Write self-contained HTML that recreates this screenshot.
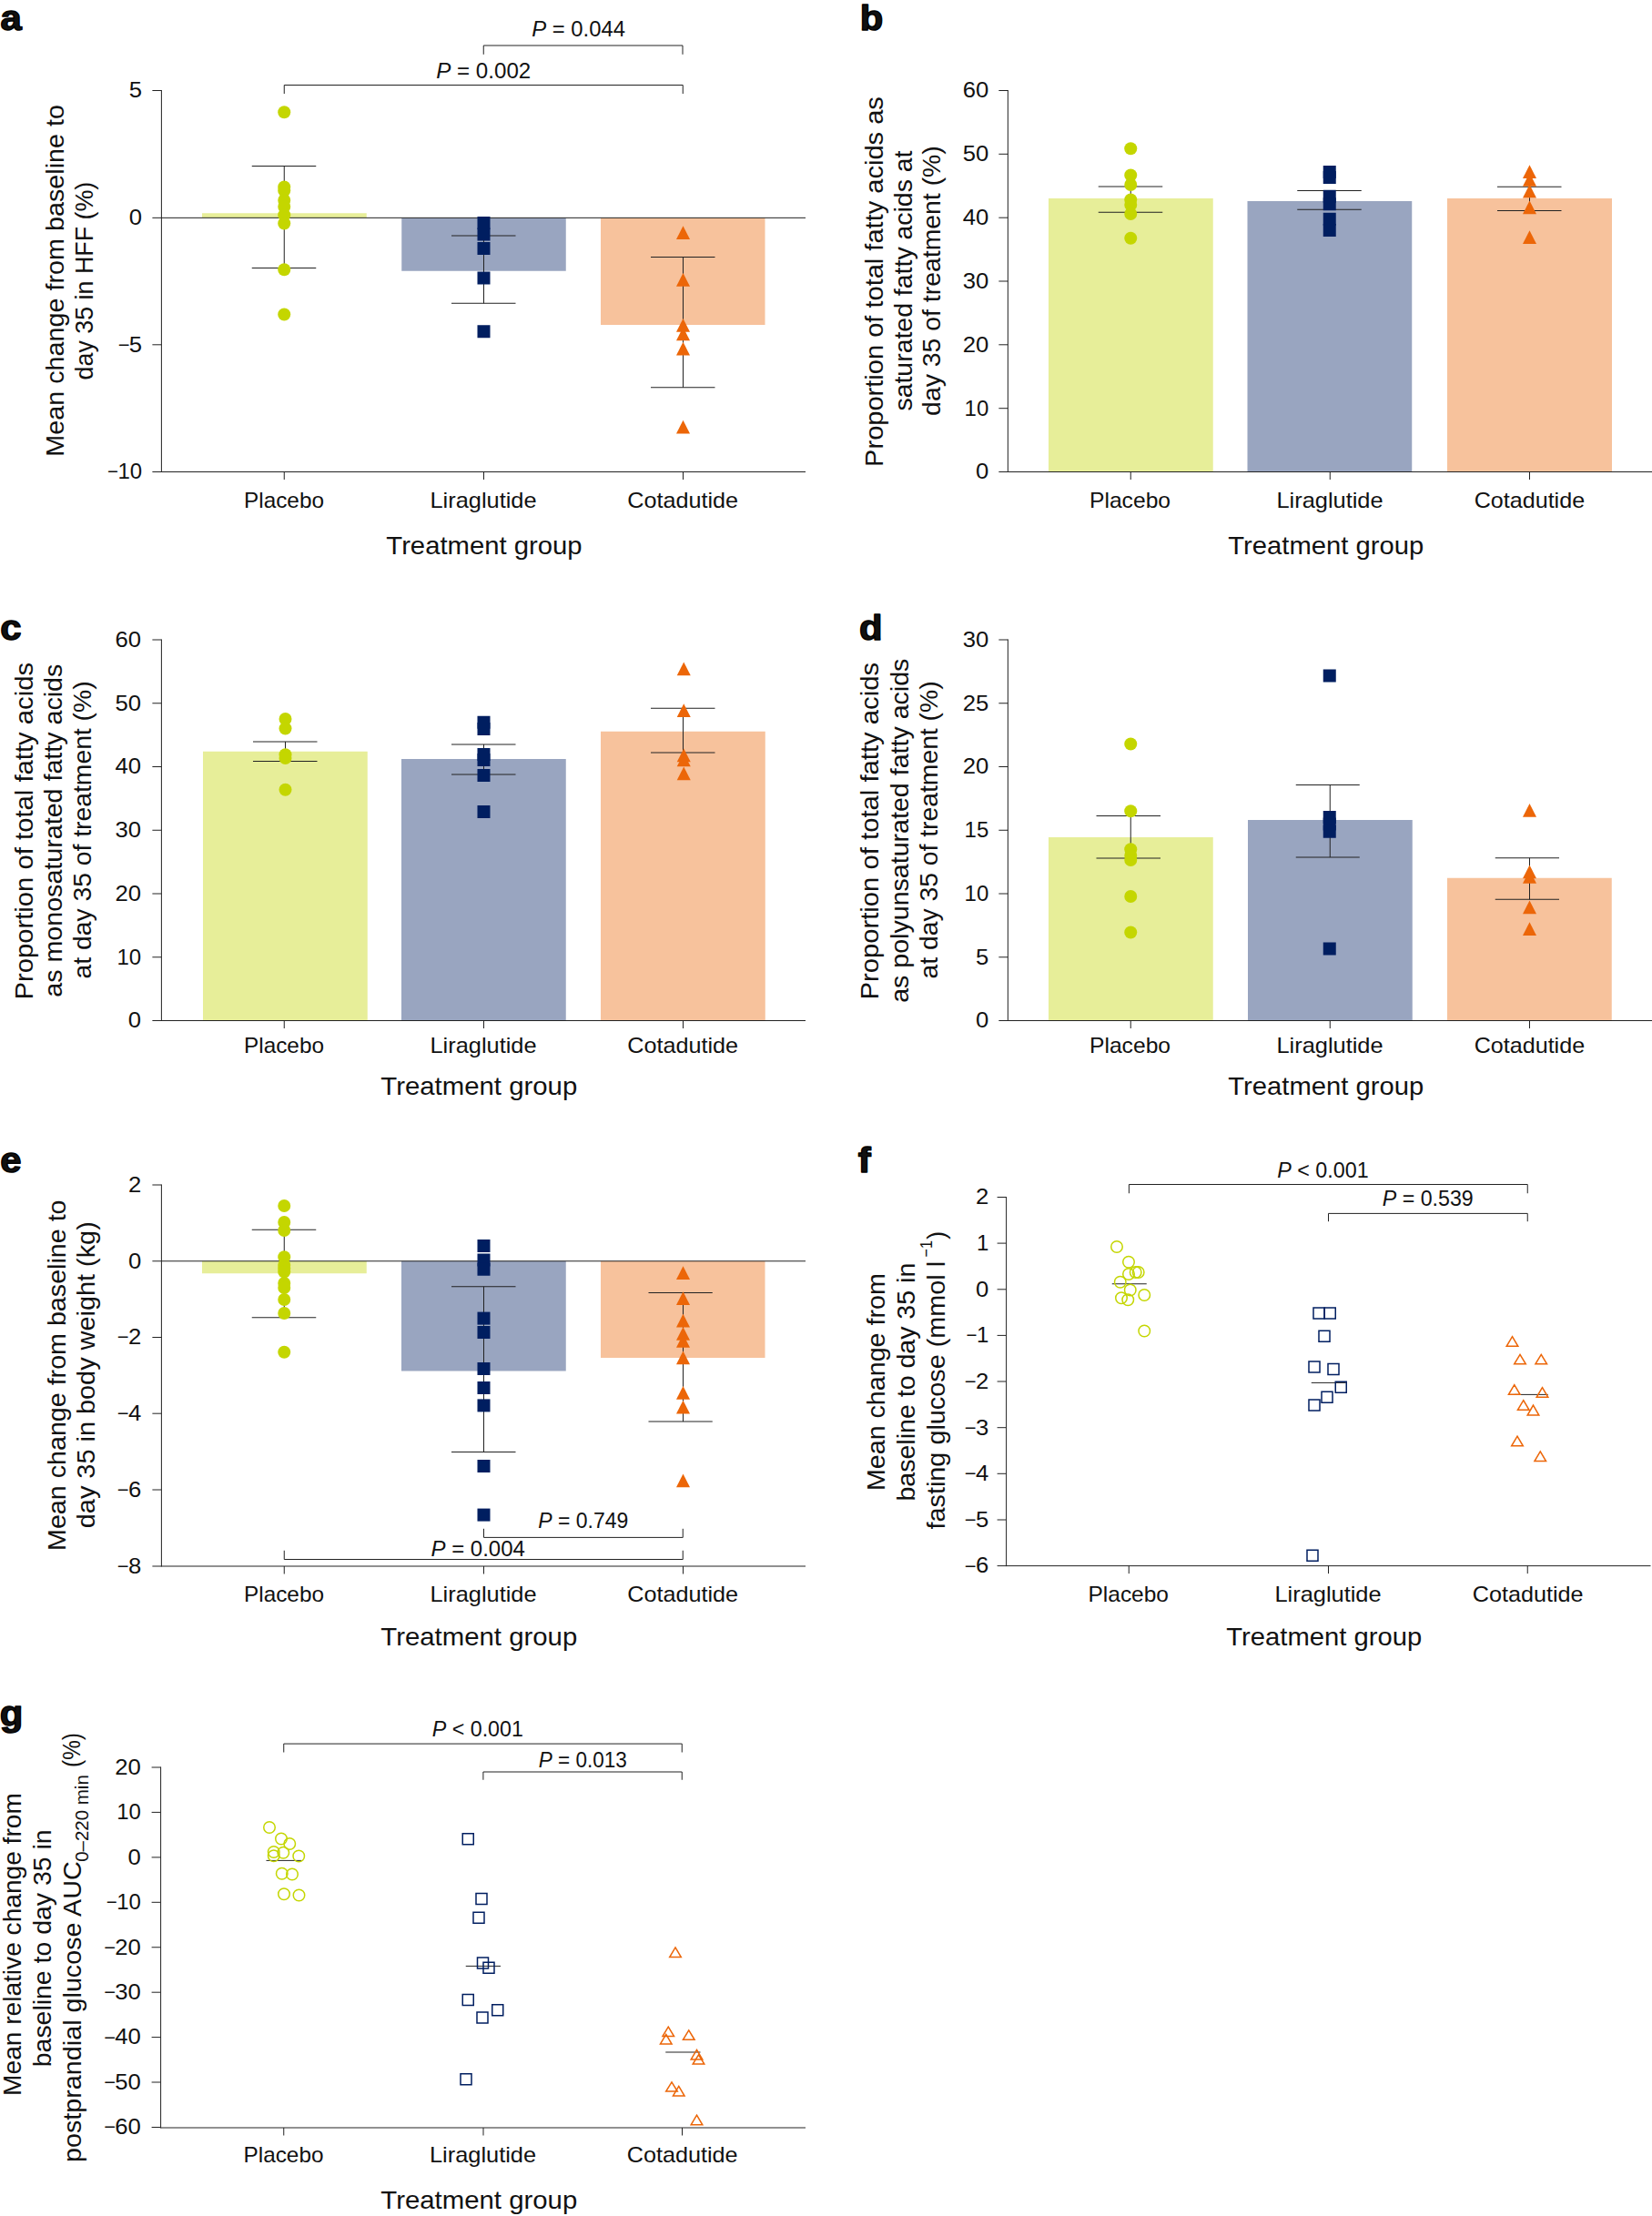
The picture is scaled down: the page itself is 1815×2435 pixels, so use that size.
<!DOCTYPE html>
<html lang="en"><head><meta charset="utf-8"><title>Figure</title>
<style>
html,body{margin:0;padding:0;background:#fff;}
body{width:1815px;height:2435px;overflow:hidden;}
svg{display:block;font-family:'Liberation Sans', sans-serif;fill:#111111;}
</style></head><body>
<svg width="1815" height="2435" viewBox="0 0 1815 2435">
<rect width="1815" height="2435" fill="#fff"/>
<text transform="translate(0.48,32.6) scale(1.1,1)" font-size="38" font-weight="bold" stroke="#000" stroke-width="1.4" stroke-linejoin="round">a</text>
<rect x="222.00" y="234.25" width="180.75" height="5.05" fill="#E7EE99"/>
<rect x="441.25" y="239.30" width="180.50" height="58.45" fill="#99A5C0"/>
<rect x="660.00" y="239.30" width="180.50" height="117.70" fill="#F7C29C"/>
<line x1="177.4" y1="99.0" x2="177.4" y2="519.0" stroke="#222222" stroke-width="1"/>
<line x1="177.4" y1="518.5" x2="885" y2="518.5" stroke="#222222" stroke-width="1"/>
<line x1="312.25" y1="518.5" x2="312.25" y2="527.0" stroke="#222222" stroke-width="1"/>
<line x1="531.5" y1="518.5" x2="531.5" y2="527.0" stroke="#222222" stroke-width="1"/>
<line x1="750.5" y1="518.5" x2="750.5" y2="527.0" stroke="#222222" stroke-width="1"/>
<line x1="167.4" y1="99.5" x2="177.4" y2="99.5" stroke="#222222" stroke-width="1"/>
<text transform="translate(156.10,107.30) scale(1.07,1)" font-size="24" text-anchor="end">5</text>
<line x1="167.4" y1="239.35" x2="177.4" y2="239.35" stroke="#222222" stroke-width="1"/>
<text transform="translate(156.10,247.15) scale(1.07,1)" font-size="24" text-anchor="end">0</text>
<line x1="167.4" y1="378.8" x2="177.4" y2="378.8" stroke="#222222" stroke-width="1"/>
<text transform="translate(156.10,386.60) scale(1.07,1)" font-size="24" text-anchor="end"><tspan font-size="20.5" dy="-0.9">−</tspan><tspan dy="0.9" dx="-0.6">5</tspan></text>
<line x1="167.4" y1="518.5" x2="177.4" y2="518.5" stroke="#222222" stroke-width="1"/>
<text transform="translate(156.10,526.30) scale(1.0,1)" font-size="24" text-anchor="end"><tspan font-size="20.5" dy="-0.9">−</tspan><tspan dy="0.9" dx="-0.6">10</tspan></text>
<line x1="177.4" y1="239.35" x2="885" y2="239.35" stroke="#222222" stroke-width="1"/>
<line x1="312.25" y1="182.5" x2="312.25" y2="294.5" stroke="#222222" stroke-width="1"/>
<line x1="276.75" y1="182.5" x2="347.25" y2="182.5" stroke="#222222" stroke-width="1"/>
<line x1="276.75" y1="294.5" x2="347.25" y2="294.5" stroke="#222222" stroke-width="1"/>
<circle cx="312.25" cy="123.25" r="7" fill="#C4D600"/>
<circle cx="312.25" cy="205.50" r="7" fill="#C4D600"/>
<circle cx="312.25" cy="209.50" r="7" fill="#C4D600"/>
<circle cx="312.25" cy="220.00" r="7" fill="#C4D600"/>
<circle cx="312.25" cy="227.00" r="7" fill="#C4D600"/>
<circle cx="312.25" cy="236.25" r="7" fill="#C4D600"/>
<circle cx="312.25" cy="245.50" r="7" fill="#C4D600"/>
<circle cx="312.25" cy="296.25" r="7" fill="#C4D600"/>
<circle cx="312.25" cy="345.50" r="7" fill="#C4D600"/>
<line x1="531.5" y1="259" x2="531.5" y2="333.25" stroke="#222222" stroke-width="1"/>
<line x1="496.0" y1="259" x2="566.5" y2="259" stroke="#222222" stroke-width="1"/>
<line x1="496.0" y1="333.25" x2="566.5" y2="333.25" stroke="#222222" stroke-width="1"/>
<rect x="524.50" y="238.00" width="14" height="14" fill="#001E60"/>
<rect x="524.50" y="250.50" width="14" height="14" fill="#001E60"/>
<rect x="524.50" y="266.00" width="14" height="14" fill="#001E60"/>
<rect x="524.50" y="298.50" width="14" height="14" fill="#001E60"/>
<rect x="524.50" y="357.25" width="14" height="14" fill="#001E60"/>
<line x1="750.5" y1="282.5" x2="750.5" y2="425.75" stroke="#222222" stroke-width="1"/>
<line x1="715.0" y1="282.5" x2="785.5" y2="282.5" stroke="#222222" stroke-width="1"/>
<line x1="715.0" y1="425.75" x2="785.5" y2="425.75" stroke="#222222" stroke-width="1"/>
<path d="M750.50 248.25l7.5 14.75h-15z" fill="#EC6608"/>
<path d="M750.50 300.00l7.5 14.75h-15z" fill="#EC6608"/>
<path d="M750.50 350.00l7.5 14.75h-15z" fill="#EC6608"/>
<path d="M750.50 359.50l7.5 14.75h-15z" fill="#EC6608"/>
<path d="M750.50 375.75l7.5 14.75h-15z" fill="#EC6608"/>
<path d="M750.50 461.75l7.5 14.75h-15z" fill="#EC6608"/>
<path d="M531.25 59.8V50.0H750V59.8" fill="none" stroke="#222222" stroke-width="1"/>
<path d="M312.25 103V93.5H750.25V103" fill="none" stroke="#222222" stroke-width="1"/>
<text x="584.27" y="39.50" font-size="24" textLength="102.7" lengthAdjust="spacingAndGlyphs"><tspan font-style="italic">P</tspan> = 0.044</text>
<text x="479.26" y="86.25" font-size="24" textLength="104.0" lengthAdjust="spacingAndGlyphs"><tspan font-style="italic">P</tspan> = 0.002</text>
<text x="268.00" y="558.40" font-size="24" textLength="88.0" lengthAdjust="spacingAndGlyphs">Placebo</text>
<text x="472.42" y="558.40" font-size="24" textLength="117.2" lengthAdjust="spacingAndGlyphs">Liraglutide</text>
<text x="689.22" y="558.40" font-size="24" textLength="121.9" lengthAdjust="spacingAndGlyphs">Cotadutide</text>
<text x="424.35" y="609.00" font-size="28" textLength="215.2" lengthAdjust="spacingAndGlyphs">Treatment group</text>
<text transform="translate(69.50,501.66) rotate(-90)" font-size="28" textLength="386.6" lengthAdjust="spacingAndGlyphs">Mean change from baseline to</text>
<text transform="translate(101.70,417.43) rotate(-90)" font-size="28" textLength="217.7" lengthAdjust="spacingAndGlyphs">day 35 in HFF (%)</text>
<text transform="translate(944.74,32.8) scale(1.1,1)" font-size="38" font-weight="bold" stroke="#000" stroke-width="1.4" stroke-linejoin="round">b</text>
<rect x="1152.00" y="218.00" width="180.75" height="300.50" fill="#E7EE99"/>
<rect x="1370.50" y="221.00" width="180.75" height="297.50" fill="#99A5C0"/>
<rect x="1590.00" y="218.00" width="181.00" height="300.50" fill="#F7C29C"/>
<line x1="1107.35" y1="99.0" x2="1107.35" y2="519.0" stroke="#222222" stroke-width="1"/>
<line x1="1107.35" y1="518.5" x2="1815" y2="518.5" stroke="#222222" stroke-width="1"/>
<line x1="1242.25" y1="518.5" x2="1242.25" y2="527.0" stroke="#222222" stroke-width="1"/>
<line x1="1461.25" y1="518.5" x2="1461.25" y2="527.0" stroke="#222222" stroke-width="1"/>
<line x1="1680.5" y1="518.5" x2="1680.5" y2="527.0" stroke="#222222" stroke-width="1"/>
<line x1="1097.35" y1="99.5" x2="1107.35" y2="99.5" stroke="#222222" stroke-width="1"/>
<text transform="translate(1086.30,107.30) scale(1.07,1)" font-size="24" text-anchor="end">60</text>
<line x1="1097.35" y1="169.3" x2="1107.35" y2="169.3" stroke="#222222" stroke-width="1"/>
<text transform="translate(1086.30,177.10) scale(1.07,1)" font-size="24" text-anchor="end">50</text>
<line x1="1097.35" y1="239.2" x2="1107.35" y2="239.2" stroke="#222222" stroke-width="1"/>
<text transform="translate(1086.30,247.00) scale(1.07,1)" font-size="24" text-anchor="end">40</text>
<line x1="1097.35" y1="309" x2="1107.35" y2="309" stroke="#222222" stroke-width="1"/>
<text transform="translate(1086.30,316.80) scale(1.07,1)" font-size="24" text-anchor="end">30</text>
<line x1="1097.35" y1="378.8" x2="1107.35" y2="378.8" stroke="#222222" stroke-width="1"/>
<text transform="translate(1086.30,386.60) scale(1.07,1)" font-size="24" text-anchor="end">20</text>
<line x1="1097.35" y1="448.7" x2="1107.35" y2="448.7" stroke="#222222" stroke-width="1"/>
<text transform="translate(1086.30,456.50) scale(1.0,1)" font-size="24" text-anchor="end">10</text>
<line x1="1097.35" y1="518.5" x2="1107.35" y2="518.5" stroke="#222222" stroke-width="1"/>
<text transform="translate(1086.30,526.30) scale(1.07,1)" font-size="24" text-anchor="end">0</text>
<line x1="1242.25" y1="205" x2="1242.25" y2="233.25" stroke="#222222" stroke-width="1"/>
<line x1="1206.75" y1="205" x2="1277.25" y2="205" stroke="#222222" stroke-width="1"/>
<line x1="1206.75" y1="233.25" x2="1277.25" y2="233.25" stroke="#222222" stroke-width="1"/>
<circle cx="1242.25" cy="163.25" r="7" fill="#C4D600"/>
<circle cx="1242.25" cy="192.50" r="7" fill="#C4D600"/>
<circle cx="1242.25" cy="203.00" r="7" fill="#C4D600"/>
<circle cx="1242.25" cy="219.50" r="7" fill="#C4D600"/>
<circle cx="1242.25" cy="225.00" r="7" fill="#C4D600"/>
<circle cx="1242.25" cy="235.00" r="7" fill="#C4D600"/>
<circle cx="1242.25" cy="261.75" r="7" fill="#C4D600"/>
<line x1="1460.75" y1="209.5" x2="1460.75" y2="230.25" stroke="#222222" stroke-width="1"/>
<line x1="1425.25" y1="209.5" x2="1495.75" y2="209.5" stroke="#222222" stroke-width="1"/>
<line x1="1425.25" y1="230.25" x2="1495.75" y2="230.25" stroke="#222222" stroke-width="1"/>
<rect x="1453.75" y="182.00" width="14" height="14" fill="#001E60"/>
<rect x="1453.75" y="188.00" width="14" height="14" fill="#001E60"/>
<rect x="1453.75" y="208.75" width="14" height="14" fill="#001E60"/>
<rect x="1453.75" y="217.25" width="14" height="14" fill="#001E60"/>
<rect x="1453.75" y="233.75" width="14" height="14" fill="#001E60"/>
<rect x="1453.75" y="246.00" width="14" height="14" fill="#001E60"/>
<line x1="1680.5" y1="205.25" x2="1680.5" y2="231.5" stroke="#222222" stroke-width="1"/>
<line x1="1645.0" y1="205.25" x2="1715.5" y2="205.25" stroke="#222222" stroke-width="1"/>
<line x1="1645.0" y1="231.5" x2="1715.5" y2="231.5" stroke="#222222" stroke-width="1"/>
<path d="M1680.50 181.25l7.5 14.75h-15z" fill="#EC6608"/>
<path d="M1680.50 190.00l7.5 14.75h-15z" fill="#EC6608"/>
<path d="M1680.50 202.75l7.5 14.75h-15z" fill="#EC6608"/>
<path d="M1680.50 220.50l7.5 14.75h-15z" fill="#EC6608"/>
<path d="M1680.50 253.25l7.5 14.75h-15z" fill="#EC6608"/>
<text x="1196.98" y="558.40" font-size="24" textLength="89.1" lengthAdjust="spacingAndGlyphs">Placebo</text>
<text x="1402.42" y="558.40" font-size="24" textLength="117.2" lengthAdjust="spacingAndGlyphs">Liraglutide</text>
<text x="1619.73" y="558.40" font-size="24" textLength="121.4" lengthAdjust="spacingAndGlyphs">Cotadutide</text>
<text x="1349.35" y="609.00" font-size="28" textLength="214.9" lengthAdjust="spacingAndGlyphs">Treatment group</text>
<text transform="translate(970.00,512.88) rotate(-90)" font-size="28" textLength="406.7" lengthAdjust="spacingAndGlyphs">Proportion of total fatty acids as</text>
<text transform="translate(1001.60,451.59) rotate(-90)" font-size="28" textLength="286.1" lengthAdjust="spacingAndGlyphs">saturated fatty acids at</text>
<text transform="translate(1033.30,456.89) rotate(-90)" font-size="28" textLength="296.7" lengthAdjust="spacingAndGlyphs">day 35 of treatment (%)</text>
<text transform="translate(0.17,702.7) scale(1.1,1)" font-size="38" font-weight="bold" stroke="#000" stroke-width="1.4" stroke-linejoin="round">c</text>
<rect x="223.00" y="825.75" width="180.75" height="295.75" fill="#E7EE99"/>
<rect x="441.00" y="834.00" width="180.75" height="287.50" fill="#99A5C0"/>
<rect x="660.00" y="803.75" width="180.75" height="317.75" fill="#F7C29C"/>
<line x1="177.4" y1="702.5" x2="177.4" y2="1122.0" stroke="#222222" stroke-width="1"/>
<line x1="177.4" y1="1121.5" x2="885" y2="1121.5" stroke="#222222" stroke-width="1"/>
<line x1="312.25" y1="1121.5" x2="312.25" y2="1130.0" stroke="#222222" stroke-width="1"/>
<line x1="531.5" y1="1121.5" x2="531.5" y2="1130.0" stroke="#222222" stroke-width="1"/>
<line x1="750.5" y1="1121.5" x2="750.5" y2="1130.0" stroke="#222222" stroke-width="1"/>
<line x1="167.4" y1="703" x2="177.4" y2="703" stroke="#222222" stroke-width="1"/>
<text transform="translate(155.10,710.80) scale(1.07,1)" font-size="24" text-anchor="end">60</text>
<line x1="167.4" y1="772.75" x2="177.4" y2="772.75" stroke="#222222" stroke-width="1"/>
<text transform="translate(155.10,780.55) scale(1.07,1)" font-size="24" text-anchor="end">50</text>
<line x1="167.4" y1="842.5" x2="177.4" y2="842.5" stroke="#222222" stroke-width="1"/>
<text transform="translate(155.10,850.30) scale(1.07,1)" font-size="24" text-anchor="end">40</text>
<line x1="167.4" y1="912.25" x2="177.4" y2="912.25" stroke="#222222" stroke-width="1"/>
<text transform="translate(155.10,920.05) scale(1.07,1)" font-size="24" text-anchor="end">30</text>
<line x1="167.4" y1="982" x2="177.4" y2="982" stroke="#222222" stroke-width="1"/>
<text transform="translate(155.10,989.80) scale(1.07,1)" font-size="24" text-anchor="end">20</text>
<line x1="167.4" y1="1051.75" x2="177.4" y2="1051.75" stroke="#222222" stroke-width="1"/>
<text transform="translate(155.10,1059.55) scale(1.0,1)" font-size="24" text-anchor="end">10</text>
<line x1="167.4" y1="1121.5" x2="177.4" y2="1121.5" stroke="#222222" stroke-width="1"/>
<text transform="translate(155.10,1129.30) scale(1.07,1)" font-size="24" text-anchor="end">0</text>
<line x1="313.5" y1="815" x2="313.5" y2="836.5" stroke="#222222" stroke-width="1"/>
<line x1="278.0" y1="815" x2="348.5" y2="815" stroke="#222222" stroke-width="1"/>
<line x1="278.0" y1="836.5" x2="348.5" y2="836.5" stroke="#222222" stroke-width="1"/>
<circle cx="313.50" cy="790.00" r="7" fill="#C4D600"/>
<circle cx="313.50" cy="800.50" r="7" fill="#C4D600"/>
<circle cx="313.50" cy="829.25" r="7" fill="#C4D600"/>
<circle cx="313.50" cy="833.00" r="7" fill="#C4D600"/>
<circle cx="313.50" cy="867.75" r="7" fill="#C4D600"/>
<line x1="531.5" y1="818" x2="531.5" y2="851" stroke="#222222" stroke-width="1"/>
<line x1="496.0" y1="818" x2="566.5" y2="818" stroke="#222222" stroke-width="1"/>
<line x1="496.0" y1="851" x2="566.5" y2="851" stroke="#222222" stroke-width="1"/>
<rect x="524.50" y="786.75" width="14" height="14" fill="#001E60"/>
<rect x="524.50" y="794.00" width="14" height="14" fill="#001E60"/>
<rect x="524.50" y="822.00" width="14" height="14" fill="#001E60"/>
<rect x="524.50" y="828.00" width="14" height="14" fill="#001E60"/>
<rect x="524.50" y="845.00" width="14" height="14" fill="#001E60"/>
<rect x="524.50" y="885.00" width="14" height="14" fill="#001E60"/>
<line x1="750.5" y1="778.25" x2="750.5" y2="827" stroke="#222222" stroke-width="1"/>
<line x1="715.0" y1="778.25" x2="785.5" y2="778.25" stroke="#222222" stroke-width="1"/>
<line x1="715.0" y1="827" x2="785.5" y2="827" stroke="#222222" stroke-width="1"/>
<path d="M751.25 727.50l7.5 14.75h-15z" fill="#EC6608"/>
<path d="M751.25 773.25l7.5 14.75h-15z" fill="#EC6608"/>
<path d="M751.25 822.50l7.5 14.75h-15z" fill="#EC6608"/>
<path d="M751.25 827.50l7.5 14.75h-15z" fill="#EC6608"/>
<path d="M751.25 842.50l7.5 14.75h-15z" fill="#EC6608"/>
<text x="268.00" y="1156.50" font-size="24" textLength="88.0" lengthAdjust="spacingAndGlyphs">Placebo</text>
<text x="472.42" y="1156.50" font-size="24" textLength="117.2" lengthAdjust="spacingAndGlyphs">Liraglutide</text>
<text x="689.22" y="1156.50" font-size="24" textLength="121.9" lengthAdjust="spacingAndGlyphs">Cotadutide</text>
<text x="418.34" y="1202.50" font-size="28" textLength="215.9" lengthAdjust="spacingAndGlyphs">Treatment group</text>
<text transform="translate(36.00,1098.60) rotate(-90)" font-size="28" textLength="370.7" lengthAdjust="spacingAndGlyphs">Proportion of total fatty acids</text>
<text transform="translate(67.70,1095.72) rotate(-90)" font-size="28" textLength="366.1" lengthAdjust="spacingAndGlyphs">as monosaturated fatty acids</text>
<text transform="translate(99.90,1075.50) rotate(-90)" font-size="28" textLength="327.1" lengthAdjust="spacingAndGlyphs">at day 35 of treatment (%)</text>
<text transform="translate(944.09,702.6) scale(1.1,1)" font-size="38" font-weight="bold" stroke="#000" stroke-width="1.4" stroke-linejoin="round">d</text>
<rect x="1152.00" y="920.00" width="180.75" height="201.50" fill="#E7EE99"/>
<rect x="1371.00" y="901.00" width="180.75" height="220.50" fill="#99A5C0"/>
<rect x="1590.00" y="964.75" width="180.75" height="156.75" fill="#F7C29C"/>
<line x1="1107.35" y1="702.5" x2="1107.35" y2="1122.0" stroke="#222222" stroke-width="1"/>
<line x1="1107.35" y1="1121.5" x2="1815" y2="1121.5" stroke="#222222" stroke-width="1"/>
<line x1="1242.25" y1="1121.5" x2="1242.25" y2="1130.0" stroke="#222222" stroke-width="1"/>
<line x1="1461.25" y1="1121.5" x2="1461.25" y2="1130.0" stroke="#222222" stroke-width="1"/>
<line x1="1680.5" y1="1121.5" x2="1680.5" y2="1130.0" stroke="#222222" stroke-width="1"/>
<line x1="1097.35" y1="703" x2="1107.35" y2="703" stroke="#222222" stroke-width="1"/>
<text transform="translate(1086.30,710.80) scale(1.07,1)" font-size="24" text-anchor="end">30</text>
<line x1="1097.35" y1="772.75" x2="1107.35" y2="772.75" stroke="#222222" stroke-width="1"/>
<text transform="translate(1086.30,780.55) scale(1.07,1)" font-size="24" text-anchor="end">25</text>
<line x1="1097.35" y1="842.5" x2="1107.35" y2="842.5" stroke="#222222" stroke-width="1"/>
<text transform="translate(1086.30,850.30) scale(1.07,1)" font-size="24" text-anchor="end">20</text>
<line x1="1097.35" y1="912.25" x2="1107.35" y2="912.25" stroke="#222222" stroke-width="1"/>
<text transform="translate(1086.30,920.05) scale(1.0,1)" font-size="24" text-anchor="end">15</text>
<line x1="1097.35" y1="982" x2="1107.35" y2="982" stroke="#222222" stroke-width="1"/>
<text transform="translate(1086.30,989.80) scale(1.0,1)" font-size="24" text-anchor="end">10</text>
<line x1="1097.35" y1="1051.75" x2="1107.35" y2="1051.75" stroke="#222222" stroke-width="1"/>
<text transform="translate(1086.30,1059.55) scale(1.07,1)" font-size="24" text-anchor="end">5</text>
<line x1="1097.35" y1="1121.5" x2="1107.35" y2="1121.5" stroke="#222222" stroke-width="1"/>
<text transform="translate(1086.30,1129.30) scale(1.07,1)" font-size="24" text-anchor="end">0</text>
<line x1="1242.25" y1="896.5" x2="1242.25" y2="943" stroke="#222222" stroke-width="1"/>
<line x1="1204.5" y1="896.5" x2="1275" y2="896.5" stroke="#222222" stroke-width="1"/>
<line x1="1204.5" y1="943" x2="1275" y2="943" stroke="#222222" stroke-width="1"/>
<circle cx="1242.25" cy="817.50" r="7" fill="#C4D600"/>
<circle cx="1242.25" cy="891.25" r="7" fill="#C4D600"/>
<circle cx="1242.25" cy="933.25" r="7" fill="#C4D600"/>
<circle cx="1242.25" cy="940.00" r="7" fill="#C4D600"/>
<circle cx="1242.25" cy="945.00" r="7" fill="#C4D600"/>
<circle cx="1242.25" cy="985.00" r="7" fill="#C4D600"/>
<circle cx="1242.25" cy="1024.50" r="7" fill="#C4D600"/>
<line x1="1461.25" y1="862.5" x2="1461.25" y2="942" stroke="#222222" stroke-width="1"/>
<line x1="1423.75" y1="862.5" x2="1493.75" y2="862.5" stroke="#222222" stroke-width="1"/>
<line x1="1423.75" y1="942" x2="1493.75" y2="942" stroke="#222222" stroke-width="1"/>
<rect x="1453.75" y="735.50" width="14" height="14" fill="#001E60"/>
<rect x="1453.75" y="891.00" width="14" height="14" fill="#001E60"/>
<rect x="1453.75" y="898.50" width="14" height="14" fill="#001E60"/>
<rect x="1453.75" y="906.75" width="14" height="14" fill="#001E60"/>
<rect x="1453.75" y="1035.50" width="14" height="14" fill="#001E60"/>
<line x1="1680.5" y1="942.75" x2="1680.5" y2="988.25" stroke="#222222" stroke-width="1"/>
<line x1="1642.75" y1="942.75" x2="1713" y2="942.75" stroke="#222222" stroke-width="1"/>
<line x1="1642.75" y1="988.25" x2="1713" y2="988.25" stroke="#222222" stroke-width="1"/>
<path d="M1680.50 883.00l7.5 14.75h-15z" fill="#EC6608"/>
<path d="M1680.50 950.50l7.5 14.75h-15z" fill="#EC6608"/>
<path d="M1680.50 956.00l7.5 14.75h-15z" fill="#EC6608"/>
<path d="M1680.50 989.50l7.5 14.75h-15z" fill="#EC6608"/>
<path d="M1680.50 1013.25l7.5 14.75h-15z" fill="#EC6608"/>
<text x="1196.98" y="1156.50" font-size="24" textLength="89.1" lengthAdjust="spacingAndGlyphs">Placebo</text>
<text x="1402.42" y="1156.50" font-size="24" textLength="117.2" lengthAdjust="spacingAndGlyphs">Liraglutide</text>
<text x="1619.73" y="1156.50" font-size="24" textLength="121.4" lengthAdjust="spacingAndGlyphs">Cotadutide</text>
<text x="1349.35" y="1202.50" font-size="28" textLength="214.9" lengthAdjust="spacingAndGlyphs">Treatment group</text>
<text transform="translate(965.10,1098.60) rotate(-90)" font-size="28" textLength="370.7" lengthAdjust="spacingAndGlyphs">Proportion of total fatty acids</text>
<text transform="translate(997.50,1101.81) rotate(-90)" font-size="28" textLength="378.2" lengthAdjust="spacingAndGlyphs">as polyunsaturated fatty acids</text>
<text transform="translate(1029.70,1075.50) rotate(-90)" font-size="28" textLength="327.1" lengthAdjust="spacingAndGlyphs">at day 35 of treatment (%)</text>
<text transform="translate(0.27,1288) scale(1.1,1)" font-size="38" font-weight="bold" stroke="#000" stroke-width="1.4" stroke-linejoin="round">e</text>
<rect x="222.00" y="1385.75" width="180.75" height="13.50" fill="#E7EE99"/>
<rect x="441.00" y="1385.75" width="180.75" height="120.75" fill="#99A5C0"/>
<rect x="660.00" y="1385.75" width="180.50" height="106.25" fill="#F7C29C"/>
<line x1="177.4" y1="1301.5" x2="177.4" y2="1721.5" stroke="#222222" stroke-width="1"/>
<line x1="177.4" y1="1721" x2="885" y2="1721" stroke="#222222" stroke-width="1"/>
<line x1="312.25" y1="1721" x2="312.25" y2="1729.5" stroke="#222222" stroke-width="1"/>
<line x1="531.5" y1="1721" x2="531.5" y2="1729.5" stroke="#222222" stroke-width="1"/>
<line x1="750.5" y1="1721" x2="750.5" y2="1729.5" stroke="#222222" stroke-width="1"/>
<line x1="167.4" y1="1302" x2="177.4" y2="1302" stroke="#222222" stroke-width="1"/>
<text transform="translate(155.30,1309.80) scale(1.07,1)" font-size="24" text-anchor="end">2</text>
<line x1="167.4" y1="1385.75" x2="177.4" y2="1385.75" stroke="#222222" stroke-width="1"/>
<text transform="translate(155.30,1393.55) scale(1.07,1)" font-size="24" text-anchor="end">0</text>
<line x1="167.4" y1="1469.5" x2="177.4" y2="1469.5" stroke="#222222" stroke-width="1"/>
<text transform="translate(155.30,1477.30) scale(1.07,1)" font-size="24" text-anchor="end"><tspan font-size="20.5" dy="-0.9">−</tspan><tspan dy="0.9" dx="-0.6">2</tspan></text>
<line x1="167.4" y1="1553.2" x2="177.4" y2="1553.2" stroke="#222222" stroke-width="1"/>
<text transform="translate(155.30,1561.00) scale(1.07,1)" font-size="24" text-anchor="end"><tspan font-size="20.5" dy="-0.9">−</tspan><tspan dy="0.9" dx="-0.6">4</tspan></text>
<line x1="167.4" y1="1637" x2="177.4" y2="1637" stroke="#222222" stroke-width="1"/>
<text transform="translate(155.30,1644.80) scale(1.07,1)" font-size="24" text-anchor="end"><tspan font-size="20.5" dy="-0.9">−</tspan><tspan dy="0.9" dx="-0.6">6</tspan></text>
<line x1="167.4" y1="1721" x2="177.4" y2="1721" stroke="#222222" stroke-width="1"/>
<text transform="translate(155.30,1728.80) scale(1.07,1)" font-size="24" text-anchor="end"><tspan font-size="20.5" dy="-0.9">−</tspan><tspan dy="0.9" dx="-0.6">8</tspan></text>
<line x1="177.4" y1="1385.75" x2="885" y2="1385.75" stroke="#222222" stroke-width="1"/>
<line x1="312.25" y1="1351.25" x2="312.25" y2="1447.75" stroke="#222222" stroke-width="1"/>
<line x1="276.75" y1="1351.25" x2="347.25" y2="1351.25" stroke="#222222" stroke-width="1"/>
<line x1="276.75" y1="1447.75" x2="347.25" y2="1447.75" stroke="#222222" stroke-width="1"/>
<circle cx="312.25" cy="1325.00" r="7" fill="#C4D600"/>
<circle cx="312.25" cy="1343.00" r="7" fill="#C4D600"/>
<circle cx="312.25" cy="1352.00" r="7" fill="#C4D600"/>
<circle cx="312.25" cy="1381.25" r="7" fill="#C4D600"/>
<circle cx="312.25" cy="1390.00" r="7" fill="#C4D600"/>
<circle cx="312.25" cy="1393.75" r="7" fill="#C4D600"/>
<circle cx="312.25" cy="1397.50" r="7" fill="#C4D600"/>
<circle cx="312.25" cy="1410.00" r="7" fill="#C4D600"/>
<circle cx="312.25" cy="1415.00" r="7" fill="#C4D600"/>
<circle cx="312.25" cy="1428.00" r="7" fill="#C4D600"/>
<circle cx="312.25" cy="1443.00" r="7" fill="#C4D600"/>
<circle cx="312.25" cy="1485.75" r="7" fill="#C4D600"/>
<line x1="531.5" y1="1413.75" x2="531.5" y2="1595.5" stroke="#222222" stroke-width="1"/>
<line x1="496.0" y1="1413.75" x2="566.5" y2="1413.75" stroke="#222222" stroke-width="1"/>
<line x1="496.0" y1="1595.5" x2="566.5" y2="1595.5" stroke="#222222" stroke-width="1"/>
<rect x="524.50" y="1362.00" width="14" height="14" fill="#001E60"/>
<rect x="524.50" y="1377.50" width="14" height="14" fill="#001E60"/>
<rect x="524.50" y="1387.75" width="14" height="14" fill="#001E60"/>
<rect x="524.50" y="1441.60" width="14" height="14" fill="#001E60"/>
<rect x="524.50" y="1457.00" width="14" height="14" fill="#001E60"/>
<rect x="524.50" y="1497.00" width="14" height="14" fill="#001E60"/>
<rect x="524.50" y="1518.00" width="14" height="14" fill="#001E60"/>
<rect x="524.50" y="1537.40" width="14" height="14" fill="#001E60"/>
<rect x="524.50" y="1604.00" width="14" height="14" fill="#001E60"/>
<rect x="524.50" y="1657.60" width="14" height="14" fill="#001E60"/>
<line x1="750.5" y1="1420.5" x2="750.5" y2="1562" stroke="#222222" stroke-width="1"/>
<line x1="712.5" y1="1420.5" x2="782.75" y2="1420.5" stroke="#222222" stroke-width="1"/>
<line x1="712.5" y1="1562" x2="782.75" y2="1562" stroke="#222222" stroke-width="1"/>
<path d="M750.50 1391.25l7.5 14.75h-15z" fill="#EC6608"/>
<path d="M750.50 1419.25l7.5 14.75h-15z" fill="#EC6608"/>
<path d="M750.50 1443.75l7.5 14.75h-15z" fill="#EC6608"/>
<path d="M750.50 1458.00l7.5 14.75h-15z" fill="#EC6608"/>
<path d="M750.50 1466.00l7.5 14.75h-15z" fill="#EC6608"/>
<path d="M750.50 1484.50l7.5 14.75h-15z" fill="#EC6608"/>
<path d="M750.50 1523.00l7.5 14.75h-15z" fill="#EC6608"/>
<path d="M750.50 1538.75l7.5 14.75h-15z" fill="#EC6608"/>
<path d="M750.50 1619.50l7.5 14.75h-15z" fill="#EC6608"/>
<path d="M531.5 1679.8V1689.4H750.25V1679.8" fill="none" stroke="#222222" stroke-width="1"/>
<path d="M312.25 1703.75V1713.5H750.25V1703.75" fill="none" stroke="#222222" stroke-width="1"/>
<text x="591.29" y="1678.50" font-size="24" textLength="99.0" lengthAdjust="spacingAndGlyphs"><tspan font-style="italic">P</tspan> = 0.749</text>
<text x="473.51" y="1709.80" font-size="24" textLength="103.4" lengthAdjust="spacingAndGlyphs"><tspan font-style="italic">P</tspan> = 0.004</text>
<text x="268.00" y="1760.00" font-size="24" textLength="88.0" lengthAdjust="spacingAndGlyphs">Placebo</text>
<text x="472.42" y="1760.00" font-size="24" textLength="117.2" lengthAdjust="spacingAndGlyphs">Liraglutide</text>
<text x="689.22" y="1760.00" font-size="24" textLength="121.9" lengthAdjust="spacingAndGlyphs">Cotadutide</text>
<text x="418.34" y="1807.50" font-size="28" textLength="215.9" lengthAdjust="spacingAndGlyphs">Treatment group</text>
<text transform="translate(71.90,1703.95) rotate(-90)" font-size="28" textLength="385.5" lengthAdjust="spacingAndGlyphs">Mean change from baseline to</text>
<text transform="translate(104.00,1679.21) rotate(-90)" font-size="28" textLength="337.0" lengthAdjust="spacingAndGlyphs">day 35 in body weight (kg)</text>
<text transform="translate(942.69,1288.3) scale(1.1,1)" font-size="38" font-weight="bold" stroke="#000" stroke-width="1.4" stroke-linejoin="round">f</text>
<line x1="1105.6" y1="1315.0" x2="1105.6" y2="1721.1" stroke="#222222" stroke-width="1"/>
<line x1="1105.6" y1="1720.6" x2="1813.5" y2="1720.6" stroke="#222222" stroke-width="1"/>
<line x1="1240.25" y1="1720.6" x2="1240.25" y2="1729.1" stroke="#222222" stroke-width="1"/>
<line x1="1459.5" y1="1720.6" x2="1459.5" y2="1729.1" stroke="#222222" stroke-width="1"/>
<line x1="1678.25" y1="1720.6" x2="1678.25" y2="1729.1" stroke="#222222" stroke-width="1"/>
<line x1="1095.6" y1="1315.5" x2="1105.6" y2="1315.5" stroke="#222222" stroke-width="1"/>
<text transform="translate(1086.30,1323.30) scale(1.07,1)" font-size="24" text-anchor="end">2</text>
<line x1="1095.6" y1="1366.1" x2="1105.6" y2="1366.1" stroke="#222222" stroke-width="1"/>
<text transform="translate(1086.30,1373.90) scale(1.0,1)" font-size="24" text-anchor="end">1</text>
<line x1="1095.6" y1="1416.8" x2="1105.6" y2="1416.8" stroke="#222222" stroke-width="1"/>
<text transform="translate(1086.30,1424.60) scale(1.07,1)" font-size="24" text-anchor="end">0</text>
<line x1="1095.6" y1="1467.4" x2="1105.6" y2="1467.4" stroke="#222222" stroke-width="1"/>
<text transform="translate(1086.30,1475.20) scale(1.0,1)" font-size="24" text-anchor="end"><tspan font-size="20.5" dy="-0.9">−</tspan><tspan dy="0.9" dx="-0.6">1</tspan></text>
<line x1="1095.6" y1="1518" x2="1105.6" y2="1518" stroke="#222222" stroke-width="1"/>
<text transform="translate(1086.30,1525.80) scale(1.07,1)" font-size="24" text-anchor="end"><tspan font-size="20.5" dy="-0.9">−</tspan><tspan dy="0.9" dx="-0.6">2</tspan></text>
<line x1="1095.6" y1="1568.7" x2="1105.6" y2="1568.7" stroke="#222222" stroke-width="1"/>
<text transform="translate(1086.30,1576.50) scale(1.07,1)" font-size="24" text-anchor="end"><tspan font-size="20.5" dy="-0.9">−</tspan><tspan dy="0.9" dx="-0.6">3</tspan></text>
<line x1="1095.6" y1="1619.3" x2="1105.6" y2="1619.3" stroke="#222222" stroke-width="1"/>
<text transform="translate(1086.30,1627.10) scale(1.07,1)" font-size="24" text-anchor="end"><tspan font-size="20.5" dy="-0.9">−</tspan><tspan dy="0.9" dx="-0.6">4</tspan></text>
<line x1="1095.6" y1="1670" x2="1105.6" y2="1670" stroke="#222222" stroke-width="1"/>
<text transform="translate(1086.30,1677.80) scale(1.07,1)" font-size="24" text-anchor="end"><tspan font-size="20.5" dy="-0.9">−</tspan><tspan dy="0.9" dx="-0.6">5</tspan></text>
<line x1="1095.6" y1="1720.6" x2="1105.6" y2="1720.6" stroke="#222222" stroke-width="1"/>
<text transform="translate(1086.30,1728.40) scale(1.07,1)" font-size="24" text-anchor="end"><tspan font-size="20.5" dy="-0.9">−</tspan><tspan dy="0.9" dx="-0.6">6</tspan></text>
<line x1="1221.75" y1="1410.75" x2="1259.75" y2="1410.75" stroke="#222222" stroke-width="1"/>
<circle cx="1227.00" cy="1370.00" r="6.25" fill="none" stroke="#C4D600" stroke-width="1.5"/>
<circle cx="1240.00" cy="1386.75" r="6.25" fill="none" stroke="#C4D600" stroke-width="1.5"/>
<circle cx="1247.70" cy="1398.00" r="6.25" fill="none" stroke="#C4D600" stroke-width="1.5"/>
<circle cx="1250.70" cy="1398.00" r="6.25" fill="none" stroke="#C4D600" stroke-width="1.5"/>
<circle cx="1240.00" cy="1400.00" r="6.25" fill="none" stroke="#C4D600" stroke-width="1.5"/>
<circle cx="1230.75" cy="1408.75" r="6.25" fill="none" stroke="#C4D600" stroke-width="1.5"/>
<circle cx="1241.75" cy="1417.50" r="6.25" fill="none" stroke="#C4D600" stroke-width="1.5"/>
<circle cx="1257.25" cy="1423.00" r="6.25" fill="none" stroke="#C4D600" stroke-width="1.5"/>
<circle cx="1232.00" cy="1426.25" r="6.25" fill="none" stroke="#C4D600" stroke-width="1.5"/>
<circle cx="1239.25" cy="1428.25" r="6.25" fill="none" stroke="#C4D600" stroke-width="1.5"/>
<circle cx="1257.25" cy="1462.50" r="6.25" fill="none" stroke="#C4D600" stroke-width="1.5"/>
<line x1="1440.75" y1="1519.4" x2="1478.75" y2="1519.4" stroke="#222222" stroke-width="1"/>
<rect x="1443.00" y="1437.00" width="12" height="12" fill="none" stroke="#001E60" stroke-width="1.5"/>
<rect x="1455.25" y="1437.00" width="12" height="12" fill="none" stroke="#001E60" stroke-width="1.5"/>
<rect x="1449.00" y="1462.25" width="12" height="12" fill="none" stroke="#001E60" stroke-width="1.5"/>
<rect x="1438.00" y="1496.00" width="12" height="12" fill="none" stroke="#001E60" stroke-width="1.5"/>
<rect x="1459.00" y="1498.50" width="12" height="12" fill="none" stroke="#001E60" stroke-width="1.5"/>
<rect x="1467.25" y="1518.25" width="12" height="12" fill="none" stroke="#001E60" stroke-width="1.5"/>
<rect x="1452.00" y="1529.25" width="12" height="12" fill="none" stroke="#001E60" stroke-width="1.5"/>
<rect x="1438.00" y="1538.00" width="12" height="12" fill="none" stroke="#001E60" stroke-width="1.5"/>
<rect x="1436.00" y="1703.25" width="12" height="12" fill="none" stroke="#001E60" stroke-width="1.5"/>
<line x1="1664" y1="1532.4" x2="1700.75" y2="1532.4" stroke="#222222" stroke-width="1"/>
<path d="M1661.50 1468.60L1667.80 1479.25H1655.20Z" fill="none" stroke="#EC6608" stroke-width="1.5" stroke-linejoin="miter"/>
<path d="M1670.00 1488.35L1676.30 1498.75H1663.70Z" fill="none" stroke="#EC6608" stroke-width="1.5" stroke-linejoin="miter"/>
<path d="M1693.25 1488.35L1699.55 1498.75H1686.95Z" fill="none" stroke="#EC6608" stroke-width="1.5" stroke-linejoin="miter"/>
<path d="M1663.75 1521.60L1670.05 1532.25H1657.45Z" fill="none" stroke="#EC6608" stroke-width="1.5" stroke-linejoin="miter"/>
<path d="M1694.50 1524.60L1700.80 1535.25H1688.20Z" fill="none" stroke="#EC6608" stroke-width="1.5" stroke-linejoin="miter"/>
<path d="M1673.75 1538.60L1680.05 1549.25H1667.45Z" fill="none" stroke="#EC6608" stroke-width="1.5" stroke-linejoin="miter"/>
<path d="M1684.50 1544.10L1690.80 1555.00H1678.20Z" fill="none" stroke="#EC6608" stroke-width="1.5" stroke-linejoin="miter"/>
<path d="M1667.00 1578.10L1673.30 1588.75H1660.70Z" fill="none" stroke="#EC6608" stroke-width="1.5" stroke-linejoin="miter"/>
<path d="M1692.25 1594.85L1698.55 1605.50H1685.95Z" fill="none" stroke="#EC6608" stroke-width="1.5" stroke-linejoin="miter"/>
<path d="M1240.4 1311.25V1301.5H1678.25V1311.25" fill="none" stroke="#222222" stroke-width="1"/>
<path d="M1459.5 1342.2V1333.4H1678.25V1342.2" fill="none" stroke="#222222" stroke-width="1"/>
<text x="1403.28" y="1293.50" font-size="24" textLength="100.4" lengthAdjust="spacingAndGlyphs"><tspan font-style="italic">P</tspan> &lt; 0.001</text>
<text x="1518.79" y="1325.30" font-size="24" textLength="100.0" lengthAdjust="spacingAndGlyphs"><tspan font-style="italic">P</tspan> = 0.539</text>
<text x="1195.49" y="1760.00" font-size="24" textLength="88.5" lengthAdjust="spacingAndGlyphs">Placebo</text>
<text x="1400.42" y="1760.00" font-size="24" textLength="117.2" lengthAdjust="spacingAndGlyphs">Liraglutide</text>
<text x="1617.72" y="1760.00" font-size="24" textLength="121.9" lengthAdjust="spacingAndGlyphs">Cotadutide</text>
<text x="1347.35" y="1807.50" font-size="28" textLength="214.9" lengthAdjust="spacingAndGlyphs">Treatment group</text>
<text transform="translate(971.90,1638.05) rotate(-90)" font-size="28" textLength="238.8" lengthAdjust="spacingAndGlyphs">Mean change from</text>
<text transform="translate(1004.60,1649.54) rotate(-90)" font-size="28" textLength="261.8" lengthAdjust="spacingAndGlyphs">baseline to day 35 in</text>
<text transform="translate(1037.50,1680.51) rotate(-90)" font-size="28" textLength="294.7" lengthAdjust="spacingAndGlyphs">fasting glucose (mmol l</text>
<text transform="translate(1024.30,1381.49) rotate(-90)" font-size="19" textLength="18.3" lengthAdjust="spacingAndGlyphs">−1</text>
<text transform="translate(1037.50,1362.06) rotate(-90)" font-size="28">)</text>
<text transform="translate(-0.31,1896) scale(1.1,1)" font-size="38" font-weight="bold" stroke="#000" stroke-width="1.4" stroke-linejoin="round">g</text>
<line x1="176.6" y1="1941.5" x2="176.6" y2="2338.5" stroke="#222222" stroke-width="1"/>
<line x1="176.6" y1="2338" x2="885" y2="2338" stroke="#222222" stroke-width="1"/>
<line x1="311.75" y1="2338" x2="311.75" y2="2346.5" stroke="#222222" stroke-width="1"/>
<line x1="531" y1="2338" x2="531" y2="2346.5" stroke="#222222" stroke-width="1"/>
<line x1="749.5" y1="2338" x2="749.5" y2="2346.5" stroke="#222222" stroke-width="1"/>
<line x1="166.6" y1="1942" x2="176.6" y2="1942" stroke="#222222" stroke-width="1"/>
<text transform="translate(154.90,1949.80) scale(1.07,1)" font-size="24" text-anchor="end">20</text>
<line x1="166.6" y1="1991.4" x2="176.6" y2="1991.4" stroke="#222222" stroke-width="1"/>
<text transform="translate(154.90,1999.20) scale(1.0,1)" font-size="24" text-anchor="end">10</text>
<line x1="166.6" y1="2040.9" x2="176.6" y2="2040.9" stroke="#222222" stroke-width="1"/>
<text transform="translate(154.90,2048.70) scale(1.07,1)" font-size="24" text-anchor="end">0</text>
<line x1="166.6" y1="2090.3" x2="176.6" y2="2090.3" stroke="#222222" stroke-width="1"/>
<text transform="translate(154.90,2098.10) scale(1.0,1)" font-size="24" text-anchor="end"><tspan font-size="20.5" dy="-0.9">−</tspan><tspan dy="0.9" dx="-0.6">10</tspan></text>
<line x1="166.6" y1="2139.75" x2="176.6" y2="2139.75" stroke="#222222" stroke-width="1"/>
<text transform="translate(154.90,2147.55) scale(1.07,1)" font-size="24" text-anchor="end"><tspan font-size="20.5" dy="-0.9">−</tspan><tspan dy="0.9" dx="-0.6">20</tspan></text>
<line x1="166.6" y1="2189.2" x2="176.6" y2="2189.2" stroke="#222222" stroke-width="1"/>
<text transform="translate(154.90,2197.00) scale(1.07,1)" font-size="24" text-anchor="end"><tspan font-size="20.5" dy="-0.9">−</tspan><tspan dy="0.9" dx="-0.6">30</tspan></text>
<line x1="166.6" y1="2238.6" x2="176.6" y2="2238.6" stroke="#222222" stroke-width="1"/>
<text transform="translate(154.90,2246.40) scale(1.07,1)" font-size="24" text-anchor="end"><tspan font-size="20.5" dy="-0.9">−</tspan><tspan dy="0.9" dx="-0.6">40</tspan></text>
<line x1="166.6" y1="2288" x2="176.6" y2="2288" stroke="#222222" stroke-width="1"/>
<text transform="translate(154.90,2295.80) scale(1.07,1)" font-size="24" text-anchor="end"><tspan font-size="20.5" dy="-0.9">−</tspan><tspan dy="0.9" dx="-0.6">50</tspan></text>
<line x1="166.6" y1="2337.5" x2="176.6" y2="2337.5" stroke="#222222" stroke-width="1"/>
<text transform="translate(154.90,2345.30) scale(1.07,1)" font-size="24" text-anchor="end"><tspan font-size="20.5" dy="-0.9">−</tspan><tspan dy="0.9" dx="-0.6">60</tspan></text>
<line x1="292.5" y1="2044.4" x2="331.25" y2="2044.4" stroke="#222222" stroke-width="1"/>
<circle cx="296.00" cy="2008.00" r="6.25" fill="none" stroke="#C4D600" stroke-width="1.5"/>
<circle cx="309.00" cy="2020.50" r="6.25" fill="none" stroke="#C4D600" stroke-width="1.5"/>
<circle cx="318.25" cy="2026.00" r="6.25" fill="none" stroke="#C4D600" stroke-width="1.5"/>
<circle cx="300.75" cy="2035.00" r="6.25" fill="none" stroke="#C4D600" stroke-width="1.5"/>
<circle cx="311.25" cy="2035.75" r="6.25" fill="none" stroke="#C4D600" stroke-width="1.5"/>
<circle cx="300.75" cy="2039.25" r="6.25" fill="none" stroke="#C4D600" stroke-width="1.5"/>
<circle cx="328.25" cy="2039.50" r="6.25" fill="none" stroke="#C4D600" stroke-width="1.5"/>
<circle cx="309.75" cy="2058.75" r="6.25" fill="none" stroke="#C4D600" stroke-width="1.5"/>
<circle cx="321.00" cy="2059.50" r="6.25" fill="none" stroke="#C4D600" stroke-width="1.5"/>
<circle cx="312.00" cy="2081.25" r="6.25" fill="none" stroke="#C4D600" stroke-width="1.5"/>
<circle cx="328.50" cy="2082.50" r="6.25" fill="none" stroke="#C4D600" stroke-width="1.5"/>
<line x1="511.75" y1="2160.4" x2="550" y2="2160.4" stroke="#222222" stroke-width="1"/>
<rect x="508.25" y="2014.75" width="12" height="12" fill="none" stroke="#001E60" stroke-width="1.5"/>
<rect x="523.00" y="2080.50" width="12" height="12" fill="none" stroke="#001E60" stroke-width="1.5"/>
<rect x="520.00" y="2101.25" width="12" height="12" fill="none" stroke="#001E60" stroke-width="1.5"/>
<rect x="524.50" y="2151.00" width="12" height="12" fill="none" stroke="#001E60" stroke-width="1.5"/>
<rect x="531.00" y="2156.25" width="12" height="12" fill="none" stroke="#001E60" stroke-width="1.5"/>
<rect x="508.25" y="2191.50" width="12" height="12" fill="none" stroke="#001E60" stroke-width="1.5"/>
<rect x="540.75" y="2202.75" width="12" height="12" fill="none" stroke="#001E60" stroke-width="1.5"/>
<rect x="524.00" y="2211.00" width="12" height="12" fill="none" stroke="#001E60" stroke-width="1.5"/>
<rect x="506.00" y="2278.75" width="12" height="12" fill="none" stroke="#001E60" stroke-width="1.5"/>
<line x1="731.25" y1="2255" x2="769.5" y2="2255" stroke="#222222" stroke-width="1"/>
<path d="M742.00 2139.85L748.30 2150.50H735.70Z" fill="none" stroke="#EC6608" stroke-width="1.5" stroke-linejoin="miter"/>
<path d="M734.25 2227.10L740.55 2237.50H727.95Z" fill="none" stroke="#EC6608" stroke-width="1.5" stroke-linejoin="miter"/>
<path d="M756.75 2230.85L763.05 2241.25H750.45Z" fill="none" stroke="#EC6608" stroke-width="1.5" stroke-linejoin="miter"/>
<path d="M731.75 2235.35L738.05 2246.00H725.45Z" fill="none" stroke="#EC6608" stroke-width="1.5" stroke-linejoin="miter"/>
<path d="M765.50 2252.35L771.80 2263.00H759.20Z" fill="none" stroke="#EC6608" stroke-width="1.5" stroke-linejoin="miter"/>
<path d="M767.50 2257.85L773.80 2268.00H761.20Z" fill="none" stroke="#EC6608" stroke-width="1.5" stroke-linejoin="miter"/>
<path d="M738.00 2287.85L744.30 2298.00H731.70Z" fill="none" stroke="#EC6608" stroke-width="1.5" stroke-linejoin="miter"/>
<path d="M745.75 2292.35L752.05 2303.00H739.45Z" fill="none" stroke="#EC6608" stroke-width="1.5" stroke-linejoin="miter"/>
<path d="M765.50 2324.10L771.80 2334.75H759.20Z" fill="none" stroke="#EC6608" stroke-width="1.5" stroke-linejoin="miter"/>
<path d="M311.75 1925.5V1916.1H749.25V1925.5" fill="none" stroke="#222222" stroke-width="1"/>
<path d="M530.9 1955.75V1947H749.25V1955.75" fill="none" stroke="#222222" stroke-width="1"/>
<text x="474.79" y="1908.20" font-size="24" textLength="100.1" lengthAdjust="spacingAndGlyphs"><tspan font-style="italic">P</tspan> &lt; 0.001</text>
<text x="591.81" y="1942.00" font-size="24" textLength="97.0" lengthAdjust="spacingAndGlyphs"><tspan font-style="italic">P</tspan> = 0.013</text>
<text x="267.50" y="2376.00" font-size="24" textLength="88.0" lengthAdjust="spacingAndGlyphs">Placebo</text>
<text x="471.92" y="2376.00" font-size="24" textLength="117.2" lengthAdjust="spacingAndGlyphs">Liraglutide</text>
<text x="688.72" y="2376.00" font-size="24" textLength="121.9" lengthAdjust="spacingAndGlyphs">Cotadutide</text>
<text x="418.34" y="2426.50" font-size="28" textLength="215.9" lengthAdjust="spacingAndGlyphs">Treatment group</text>
<text transform="translate(23.30,2302.90) rotate(-90)" font-size="28" textLength="332.7" lengthAdjust="spacingAndGlyphs">Mean relative change from</text>
<text transform="translate(55.80,2271.23) rotate(-90)" font-size="28" textLength="260.8" lengthAdjust="spacingAndGlyphs">baseline to day 35 in</text>
<text transform="translate(88.60,2376.04) rotate(-90)" font-size="28" textLength="330.7" lengthAdjust="spacingAndGlyphs">postprandial glucose AUC</text>
<text transform="translate(96.90,2045.80) rotate(-90)" font-size="19.5" textLength="95.6" lengthAdjust="spacingAndGlyphs">0–220 min</text>
<text transform="translate(87.50,1941.91) rotate(-90)" font-size="28" textLength="37.9" lengthAdjust="spacingAndGlyphs">(%)</text>
</svg>
</body></html>
